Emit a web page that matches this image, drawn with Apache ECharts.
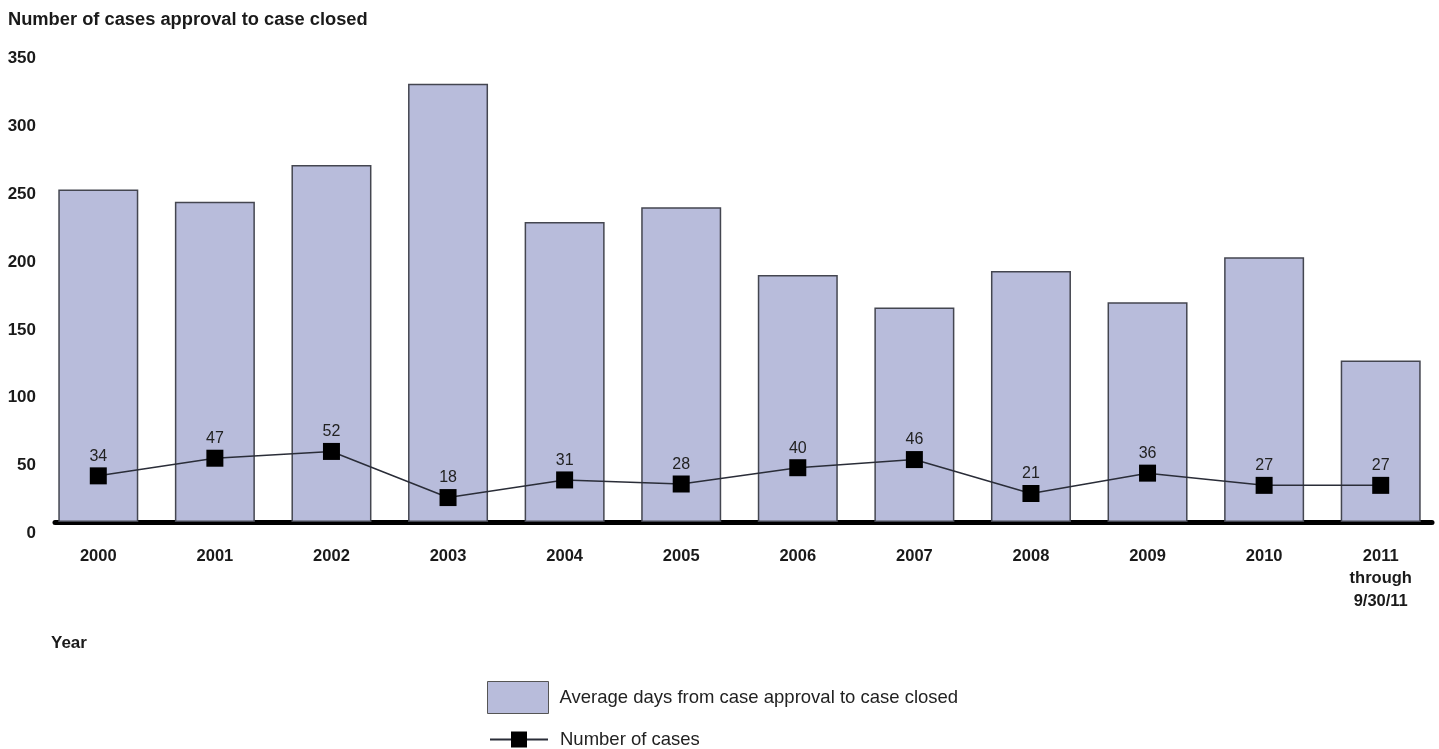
<!DOCTYPE html>
<html>
<head>
<meta charset="utf-8">
<script src="https://cdn.jsdelivr.net/npm/echarts@6/dist/echarts.min.js"></script>
<style>
html,body{margin:0;padding:0;background:#fff;}
#chart{width:1439px;height:749px;}
</style>
</head>
<body>
<div id="chart"></div>
<script>
const categories = ['2000','2001','2002','2003','2004','2005','2006','2007','2008','2009','2010','2011\nthrough\n9/30/11'];
const avgDays = [245, 236, 263, 323, 221, 232, 182, 158, 185, 162, 195, 119];
const numCases = [34, 47, 52, 18, 31, 28, 40, 46, 21, 36, 27, 27];
const yTicks = {min: 0, max: 350, interval: 50};

const FONT = '"Liberation Sans", Arial, sans-serif';
const chart = echarts.init(document.getElementById('chart'));
chart.setOption({
  backgroundColor: '#fff',
  animation: false,
  textStyle: {fontFamily: FONT},
  title: [
    {text: 'Number of cases approval to case closed', left: 3, top: 6,
     textStyle: {fontSize: 18.3, fontWeight: 'bold', color: '#1a1a1a', fontFamily: FONT}},
    {text: 'Year', left: 46, top: 630,
     textStyle: {fontSize: 17, fontWeight: 'bold', color: '#1a1a1a', fontFamily: FONT}}
  ],
  legend: [
    {data: [{name: 'Average days from case approval to case closed', icon: 'rect'}], orient: 'vertical', left: 487, top: 681,
     padding: 0, itemWidth: 61, itemHeight: 32, itemGap: 10,
     itemStyle: {borderColor: '#555', borderWidth: 1},
     textStyle: {fontSize: 18.5, color: '#222', fontFamily: FONT, padding: [0,0,0,6]}},
    {data: ['Number of cases'], orient: 'vertical', left: 489, top: 730,
     padding: 0, itemWidth: 58, itemHeight: 20,
     textStyle: {fontSize: 18.5, color: '#222', fontFamily: FONT, padding: [0,0,0,7]}}
  ],
  grid: [
    {left: 40, right: -8, top: 47, bottom: 227, containLabel: false},
    {left: 55, right: 7, top: 47, bottom: 227, containLabel: false}
  ],
  xAxis: [
    {type: 'category', gridIndex: 0, data: categories, boundaryGap: true,
     axisLine: {show: false}, axisTick: {show: false},
     axisLabel: {fontSize: 16.5, fontWeight: 'bold', color: '#1a1a1a', margin: 23, lineHeight: 22.5, fontFamily: FONT, interval: 0}},
    {type: 'category', gridIndex: 1, data: [''],
     axisLine: {show: true, lineStyle: {color: '#000', width: 5}},
     axisTick: {show: false}, axisLabel: {show: false}}
  ],
  yAxis: [
    {type: 'value', gridIndex: 0, min: yTicks.min, max: yTicks.max, interval: yTicks.interval,
     axisLine: {show: false}, axisTick: {show: false}, splitLine: {show: false},
     axisLabel: {fontSize: 17, fontWeight: 'bold', color: '#1a1a1a', margin: 4, verticalAlign: 'top', padding: [3,0,0,0], fontFamily: FONT}},
    {type: 'value', gridIndex: 1, min: yTicks.min, max: yTicks.max, show: false}
  ],
  series: [
    {name: 'Average days from case approval to case closed', type: 'bar', xAxisIndex: 0, yAxisIndex: 0,
     data: avgDays, barWidth: 80,
     itemStyle: {color: '#b8bcdb', borderColor: '#444650', borderWidth: 1.5}},
    {name: 'Number of cases', type: 'line', xAxisIndex: 0, yAxisIndex: 0,
     data: numCases, symbol: 'rect', symbolSize: 17,
     lineStyle: {color: '#2a2d38', width: 1.5},
     itemStyle: {color: '#000'},
     label: {show: true, position: 'top', distance: 3, fontSize: 16, color: '#222', fontFamily: FONT}}
  ]
});
</script>
</body>
</html>
